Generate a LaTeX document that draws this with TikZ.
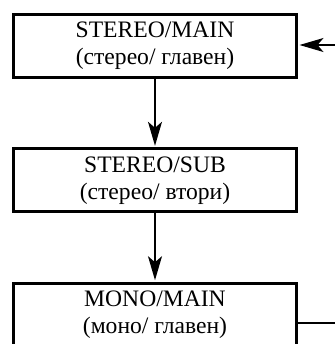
\documentclass[tikz,border=0pt]{standalone}
\usepackage{fontspec}
\setmainfont{Liberation Serif}
\usetikzlibrary{arrows.meta}
\tikzset{
  modebox/.style={draw,line width=1.5pt,minimum width=141.5pt,minimum height=31.5pt,
    inner sep=0pt,align=center,font=\fontsize{11.8}{13.5}\selectfont},
  flow/.style={line width=0.65pt,shorten >=0.75pt,
    -{Stealth[length=12pt,width=7pt,inset=3pt]}}
}
\begin{document}
\begin{tikzpicture}[x=0.5pt,y=-0.5pt]
  \useasboundingbox (0,0) rectangle (335,344);
  \clip (0,0) rectangle (335,344);
  % mode boxes
  \node[modebox] (stmain) at (155,46) {STEREO/MAIN\\(стерео/ главен)};
  \node[modebox] (stsub) at (155,180.3) {STEREO/SUB\\(стерео/ втори)};
  \node[modebox] (momain) at (155,314.7) {MONO/MAIN\\(моно/ главен)};
  % loop in and out on the right
  \coordinate (loopin) at (335,45);
  \coordinate (loopout) at (335,323);
  \draw[flow] (loopin) -- (loopin -| stmain.east);
  \draw[flow] (stmain) -- (stsub);
  \draw[flow] (stsub) -- (momain);
  \draw[line width=0.65pt] (loopout -| momain.east) -- (loopout);
\end{tikzpicture}
\end{document}
